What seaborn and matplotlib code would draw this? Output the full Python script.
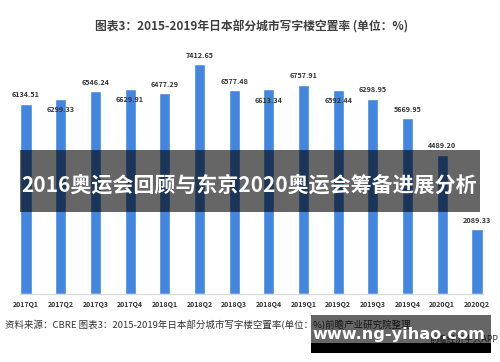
import matplotlib
matplotlib.use("Agg")
import matplotlib.pyplot as plt
from matplotlib.patches import Rectangle
import seaborn as sns
import pandas as pd

quarters = ["2017Q1", "2017Q2", "2017Q3", "2017Q4", "2018Q1", "2018Q2", "2018Q3",
            "2018Q4", "2019Q1", "2019Q2", "2019Q3", "2019Q4", "2020Q1", "2020Q2"]
values = [6134.51, 6299.33, 6546.24, 6629.91, 6477.29, 7412.65, 6577.48,
          6613.34, 6757.91, 6592.44, 6298.95, 5669.95, 4489.20, 2089.33]
inside_labels = ["2017Q2", "2017Q4", "2018Q4", "2019Q2"]

title = "图表3：2015-2019年日本部分城市写字楼空置率 (单位：%)"
banner = "2016奥运会回顾与东京2020奥运会筹备进展分析"
source = "资料来源：CBRE 图表3：2015-2019年日本部分城市写字楼空置率(单位：%)前瞻产业研究院整理"
site = "www.ng-yihao.com"
app = "前瞻经济学人APP"

sns.set_theme(style="white")
plt.rcParams['font.family'] = ['Noto Sans CJK SC', 'DejaVu Sans']

df = pd.DataFrame({"quarter": quarters, "value": values})

fig = plt.figure(figsize=(5, 3.62), dpi=100)
fig.patch.set_facecolor("white")
ax = fig.add_axes([0.0406, 0.1878, 0.9248, 0.685])
sns.barplot(data=df, x="quarter", y="value", color="#4286e0", saturation=1,
            width=0.32, ax=ax)
ax.set_xlim(-0.165, 13.165)
ax.set_ylim(0, 8000)
ax.set_xlabel("")
ax.set_ylabel("")
ax.set_yticks([])
for s in ["left", "right", "top"]:
    ax.spines[s].set_visible(False)
ax.spines["bottom"].set_color("#d9d9d9")
ax.spines["bottom"].set_linewidth(0.8)
ax.tick_params(axis="x", length=0, pad=5, labelsize=5, colors="#333333")
for lab in ax.get_xticklabels():
    lab.set_fontweight("bold")

for i, (q, v) in enumerate(zip(quarters, values)):
    if q in inside_labels:
        ax.annotate(f"{v:.2f}", (i, v), xytext=(0, -8), textcoords="offset points",
                    ha="center", va="center", fontsize=5.2, fontweight="bold", color="#333333")
    else:
        ax.annotate(f"{v:.2f}", (i, v), xytext=(0, 6.5), textcoords="offset points",
                    ha="center", va="center", fontsize=5.2, fontweight="bold", color="#333333")

W, H = 500, 362
def fx(px): return px / W
def fy(py): return 1 - py / H

fig.text(fx(252), fy(27), title, ha="center", va="center", fontsize=8.5,
         fontweight="bold", color="#404040")

# banner overlay
fig.add_artist(Rectangle((fx(20), fy(212)), 460 / W, 62 / H, transform=fig.transFigure,
                         facecolor="black", alpha=0.6, edgecolor="none", zorder=5))
fig.text(fx(249), fy(185), banner, ha="center", va="center", fontsize=15.1,
         fontweight="bold", color="white", zorder=6)

# footer
fig.text(fx(5), fy(325), source, ha="left", va="center", fontsize=6.8, color="#333333")
fig.text(fx(498), fy(339), app, ha="right", va="center", fontsize=6.3, color="#333333")

# site watermark box
fig.add_artist(Rectangle((fx(311), fy(343)), 180 / W, 28 / H, transform=fig.transFigure,
                         facecolor="black", alpha=0.6, edgecolor="none", zorder=5))
fig.add_artist(Rectangle((fx(311), fy(353)), 180 / W, 10 / H, transform=fig.transFigure,
                         facecolor="black", alpha=1.0, edgecolor="none", zorder=5))
fig.text(fx(399), fy(335), site, ha="center", va="center", fontsize=11.6,
         fontweight="bold", color="white", zorder=6, family=["DejaVu Sans"])

fig.savefig("out.png", dpi=100)
